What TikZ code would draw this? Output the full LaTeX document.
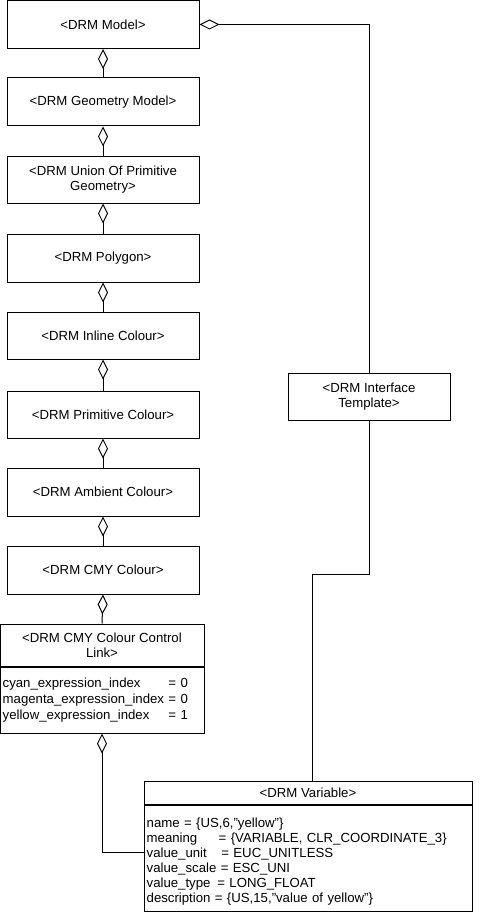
\documentclass[tikz,border=0pt]{standalone}
\usepackage{fontspec}
\setmainfont{Liberation Sans}
\usetikzlibrary{arrows.meta}
\begin{document}
\begin{tikzpicture}[x=0.75pt,y=-0.75pt, line width=0.75pt,
 every node/.style={font=\fontsize{9.9}{11.25}\selectfont},
 cls/.style={draw, minimum width=144pt, minimum height=36pt, align=center, inner sep=0pt},
 comp/.style={draw, inner sep=0pt, align=center},
 attrs/.style={draw, inner xsep=2pt, inner ysep=0pt, align=left},
 agg/.style={{Diamond[open,length=15pt,width=7.5pt]}-}]
\useasboundingbox (0,0) rectangle (481,913);
% left column
\node[cls] (model) at (103,24.5) {<DRM Model>};
\node[cls] (geom) at (103,102) {<DRM Geometry Model>};
\node[cls, minimum height=34.5pt] (union) at (103,180) {<DRM Union Of Primitive\\Geometry>};
\node[cls] (poly) at (103,258) {<DRM Polygon>};
\node[cls, minimum height=35.25pt] (inline) at (103,335.5) {<DRM Inline Colour>};
\node[cls, minimum height=35.25pt] (prim) at (103,414.5) {<DRM Primitive Colour>};
\node[cls] (amb) at (103,492) {<DRM Ambient Colour>};
\node[cls] (cmy) at (103,570) {<DRM CMY Colour>};
% CMY colour control link (two compartments)
\node[comp, minimum width=153pt, minimum height=31.5pt] (linkhead) at (102,645) {<DRM CMY Colour Control\\Link>};
\node[attrs, anchor=north, minimum width=153pt, minimum height=49.5pt, text width=149pt,
      font=\fontsize{9.9}{12}\selectfont] (linkattr) at (linkhead.south)
 {\begin{tabular}{@{}l@{\ }l@{}}
  cyan\_expression\_index & = 0\\
  magenta\_expression\_index & = 0\\
  yellow\_expression\_index & = 1
 \end{tabular}};
% interface template
\node[comp, minimum width=121.5pt, minimum height=35.25pt] (iface) at (369,396.5) {<DRM Interface\\Template>};
% DRM variable
\node[comp, minimum width=246pt, minimum height=17.25pt] (varhead) at (308,792.5) {<DRM Variable>};
\node[attrs, anchor=north, minimum width=246pt, minimum height=79.5pt, text width=242pt] (varattr) at (varhead.south)
 {\rule{0pt}{12pt}name = \{US,6,"yellow”\}\\
  \makebox[54pt][l]{meaning}= \{VARIABLE, CLR\_COORDINATE\_3\}\\
  \makebox[56pt][l]{value\_unit}= EUC\_UNITLESS\\
  value\_scale = ESC\_UNI\\
  \makebox[53pt][l]{value\_type}= LONG\_FLOAT\\
  description = \{US,15,"value of yellow”\}};
% aggregation chain
\draw[agg] (model.south) -- (geom.north);
\draw[agg] (geom.south) -- (union.north);
\draw[agg] (union.south) -- (poly.north);
\draw[agg] (poly.south) -- (inline.north);
\draw[agg] (inline.south) -- (prim.north);
\draw[agg] (prim.south) -- (amb.north);
\draw[agg] (amb.south) -- (cmy.north);
\draw[agg] (cmy.south) -- (linkhead.north);
% model to interface template
\draw[agg] (model.east) -| (iface.north);
% interface template to variable
\coordinate (bendA) at (312,574);
\draw (iface.south) |- (bendA) -- (bendA |- varhead.north);
% control link to variable
\coordinate (bendB) at (102,852);
\draw[agg] (linkattr.south) -- (bendB) -- (bendB -| varattr.west);
\end{tikzpicture}
\end{document}
